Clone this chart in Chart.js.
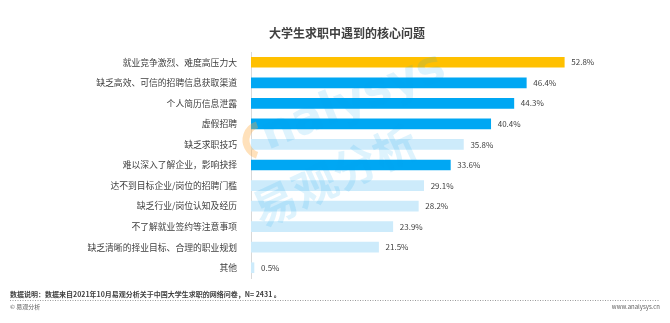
<!DOCTYPE html>
<html lang="zh">
<head>
  <meta charset="UTF-8">
  <title>大学生求职中遇到的核心问题</title>
  <script src="https://cdn.jsdelivr.net/npm/chart.js"></script>
  <style>
    html, body { margin: 0; padding: 0; background: #fff; }
    #wrap { width: 670px; height: 323px; }
  </style>
</head>
<body>
  <div id="wrap"><canvas id="problemChart"></canvas></div>

  <script>
    // survey data (percent of respondents)
    const problems = [
      '就业竞争激烈、难度高压力大',
      '缺乏高效、可信的招聘信息获取渠道',
      '个人简历信息泄露',
      '虚假招聘',
      '缺乏求职技巧',
      '难以深入了解企业，影响抉择',
      '达不到目标企业/岗位的招聘门槛',
      '缺乏行业/岗位认知及经历',
      '不了解就业签约等注意事项',
      '缺乏清晰的择业目标、合理的职业规划',
      '其他'
    ];
    const shares = [52.8, 46.4, 44.3, 40.4, 35.8, 33.6, 29.1, 28.2, 23.9, 21.5, 0.5];
    // 0 = top, 1 = highlighted, 2 = others
    const groups = [0, 1, 1, 1, 2, 1, 2, 2, 2, 2, 2];

    const palette = ['#FFC000', '#00A7F3', '#CDEBFB'];
    const cjk = '"Noto Sans CJK SC", "Noto Sans", sans-serif';

    // value labels at the end of each bar
    const valueLabels = {
      id: 'valueLabels',
      afterDatasetsDraw(chart) {
        const ctx = chart.ctx;
        const meta = chart.getDatasetMeta(0);
        ctx.save();
        ctx.font = '8px ' + cjk;
        ctx.fillStyle = '#404040';
        ctx.textBaseline = 'middle';
        meta.data.forEach((bar, i) => {
          ctx.fillText(shares[i].toFixed(1) + '%', bar.x + 7, bar.y);
        });
        ctx.restore();
      }
    };

    // faint watermark, title and footer text
    const decor = {
      id: 'decor',
      afterDatasetsDraw(chart) {
        const ctx = chart.ctx;
        ctx.save();
        ctx.strokeStyle = 'rgba(255, 170, 60, 0.35)';
        ctx.lineWidth = 7;
        ctx.beginPath();
        ctx.arc(262, 140, 16, Math.PI * 0.6, Math.PI * 1.4);
        ctx.stroke();
        ctx.restore();

        ctx.save();
        ctx.fillStyle = 'rgba(0, 160, 240, 0.13)';
        ctx.font = 'bold 46px "DejaVu Sans", sans-serif';
        ctx.translate(268, 150);
        ctx.rotate(-22 * Math.PI / 180);
        ctx.fillText('nalysys', 0, 0);
        ctx.restore();

        ctx.save();
        ctx.fillStyle = 'rgba(0, 160, 240, 0.13)';
        ctx.font = 'bold 44px ' + cjk;
        ctx.translate(262, 228);
        ctx.rotate(-25 * Math.PI / 180);
        ctx.fillText('易观分析', 0, 0);
        ctx.restore();
      },
      afterDraw(chart) {
        const ctx = chart.ctx;
        ctx.save();
        ctx.fillStyle = '#404040';
        ctx.textBaseline = 'middle';
        ctx.textAlign = 'center';
        ctx.font = 'bold 12px ' + cjk;
        ctx.fillText('大学生求职中遇到的核心问题', 347, 33);

        ctx.textAlign = 'left';
        ctx.font = 'bold 7px ' + cjk;
        ctx.fillText('数据说明：数据来自2021年10月易观分析关于中国大学生求职的网络问卷，N= 2431 。', 10, 294);

        ctx.strokeStyle = '#9a9a9a';
        ctx.lineWidth = 1;
        ctx.setLineDash([1, 1.5]);
        ctx.beginPath();
        ctx.moveTo(10, 300.5);
        ctx.lineTo(660, 300.5);
        ctx.stroke();

        ctx.font = '6px ' + cjk;
        ctx.fillStyle = '#606060';
        ctx.fillText('© 易观分析', 10, 307);
        ctx.textAlign = 'right';
        ctx.fillText('www.analysys.cn', 660, 307);
        ctx.restore();
      }
    };

    const ctx = document.getElementById('problemChart').getContext('2d');
    new Chart(ctx, {
      type: 'bar',
      data: {
        labels: problems,
        datasets: [{
          data: shares,
          backgroundColor: groups.map(g => palette[g]),
          barThickness: 10
        }]
      },
      options: {
        indexAxis: 'y',
        responsive: true,
        maintainAspectRatio: false,
        animation: false,
        layout: {
          padding: { top: 52, bottom: 45, left: 0, right: 63 }
        },
        plugins: {
          legend: { display: false },
          tooltip: { enabled: false }
        },
        scales: {
          x: {
            display: false,
            min: 0,
            max: 60
          },
          y: {
            afterFit(scale) { scale.width = 251; },
            grid: { display: false },
            border: { display: true, color: '#d9d9d9', width: 1 },
            ticks: {
              padding: 6,
              color: '#404040',
              font: { family: cjk, size: 8.8 }
            }
          }
        }
      },
      plugins: [valueLabels, decor]
    });
  </script>
</body>
</html>
